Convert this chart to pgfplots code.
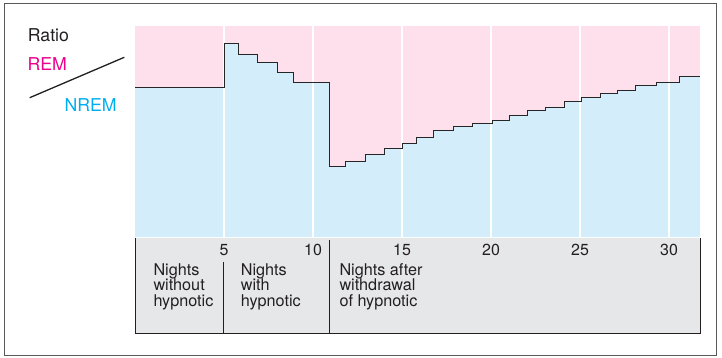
\documentclass[border=0pt]{standalone}
\usepackage{pgfplots}
\pgfplotsset{compat=1.18}
\usepackage{pgfplotstable}
\usepackage{fontspec}
\setmainfont{TeX Gyre Heros}
\definecolor{remc}{RGB}{253,224,235}
\definecolor{nremc}{RGB}{211,237,250}
\definecolor{boxc}{RGB}{230,231,233}
\definecolor{magc}{RGB}{236,0,140}
\definecolor{cyanc}{RGB}{0,174,239}
\definecolor{txt}{RGB}{35,31,32}

% night (start of step), REM/NREM ratio level (arbitrary units)
\pgfplotstableread{
x y
0 149.7
5 193.3
5.8 182.7
6.9 174.7
8.0 165.0
8.9 154.3
10.92 71.0
11.85 76.0
12.92 83.0
14.0 89.0
15.04 94.0
15.83 99.7
16.76 106.7
17.9 110.7
18.95 113.7
20.06 117.0
21.01 121.7
22.06 126.7
23.07 130.0
24.12 135.7
25.1 139.3
26.14 143.3
27.1 147.0
28.1 152.0
29.29 155.0
30.6 160.3
31.74 160.3
}\ratiodata

\begin{document}
\begin{tikzpicture}[x=1pt,y=1pt]
\path (0,0) rectangle (722,357);
\draw[black!65, line width=1pt] (4,1.5) rectangle (716.7,353.7);

\fill[boxc] (135,24) rectangle (700,119.3);
\draw[txt, line width=1pt] (135,119.3) -- (135,24) -- (700,24) -- (700,119.3);
\draw[txt, line width=0.8pt] (223.7,95.3) -- (223.7,24);
\draw[txt, line width=0.8pt] (329.3,117) -- (329.3,24);

\begin{axis}[at={(135pt,120pt)}, anchor=south west, scale only axis,
  width=565pt, height=211pt,
  xmin=0, xmax=31.74, ymin=0, ymax=211,
  axis line style={draw=none},
  ytick=\empty, xtick={5,10,...,30}, major tick length=0pt,
  xticklabel style={anchor=base, yshift=-18.7pt, font=\fontsize{16}{18}\selectfont, text=txt},
  /pgf/number format/assume math mode=true,
  axis background/.style={fill=remc}]
\addplot[const plot, fill=nremc, draw=none] table {\ratiodata} \closedcycle;
\addplot[ycomb, white, line width=1.2pt, mark=none] coordinates {(5,211) (10,211) (15,211) (20,211) (25,211) (30,211)};
\addplot[const plot, black!85, line width=0.9pt, mark=none] table {\ratiodata};
\end{axis}

\tikzset{lbl/.style={anchor=base west, inner sep=0pt, font=\fontsize{17.7}{20}\selectfont}}
\node[lbl, text=txt] at (27.7,316) {Ratio};
\node[lbl, text=magc] at (27.3,286.3) {REM};
\node[lbl, text=cyanc] at (64.3,245.3) {NREM};
\draw[txt, line width=1.3pt] (29.7,259.3) -- (124.3,299.7);

\tikzset{box/.style={anchor=base west, inner sep=0pt, font=\fontsize{16.2}{18}\selectfont, text=txt}}
\node[box] at (153.3,82) {Nights};
\node[box] at (153.3,66.7) {without};
\node[box] at (153.3,51) {hypnotic};
\node[box] at (240.7,82) {Nights};
\node[box] at (240.7,66.7) {with};
\node[box] at (240.7,51) {hypnotic};
\node[box] at (339.3,82) {Nights after};
\node[box] at (339.3,66.7) {withdrawal};
\node[box] at (339.3,51) {of hypnotic};
\end{tikzpicture}
\end{document}
